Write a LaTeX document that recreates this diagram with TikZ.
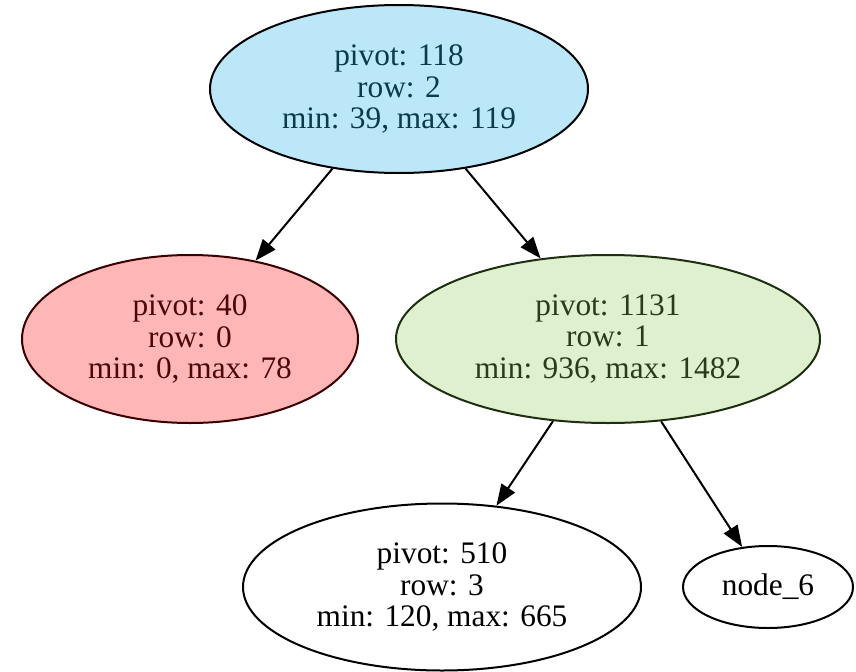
\documentclass[tikz,border=0pt]{standalone}
\usepackage{fontspec}
\setmainfont{Liberation Serif}
\usetikzlibrary{shapes.geometric,arrows.meta}
\definecolor{bluefill}{HTML}{BBE7F9}
\definecolor{bluetext}{HTML}{0B3A4A}
\definecolor{redfill}{HTML}{FFB6B6}
\definecolor{redtext}{HTML}{4A0808}
\definecolor{redline}{HTML}{3A0000}
\definecolor{greenfill}{HTML}{DFF0CF}
\definecolor{greentext}{HTML}{2A3B1A}
\definecolor{greenline}{HTML}{1E2E10}
\tikzset{
  tnode/.style={ellipse, draw=black, line width=1.5pt, inner sep=0pt, align=center,
    font=\fontsize{23.5}{23.5}\selectfont},
  edge/.style={line width=1.5pt, -{Triangle[length=16pt,width=12pt]}},
}
\begin{document}
\begin{tikzpicture}[x=0.75pt,y=-0.75pt]
\useasboundingbox (0,0) rectangle (856,671);
\node[tnode, fill=bluefill, text=bluetext, minimum width=378*0.75pt, minimum height=168*0.75pt] (root) at (399,89) {pivot: 118\\row: 2\\min: 39, max: 119};
\node[tnode, fill=redfill, draw=redline, text=redtext, minimum width=336*0.75pt, minimum height=168*0.75pt] (n40) at (190,339) {pivot: 40\\row: 0\\min: 0, max: 78};
\node[tnode, fill=greenfill, draw=greenline, text=greentext, minimum width=424*0.75pt, minimum height=168*0.75pt] (n1131) at (608,339) {pivot: 1131\\row: 1\\min: 936, max: 1482};
\node[tnode, minimum width=398*0.75pt, minimum height=167*0.75pt] (n510) at (442,587) {pivot: 510\\row: 3\\min: 120, max: 665};
\node[tnode, minimum width=170*0.75pt, minimum height=82*0.75pt] (n6) at (768,587) {node\_6};
\draw[edge] (root) -- (n40);
\draw[edge] (root) -- (n1131);
\draw[edge] (n1131) -- (n510);
\draw[edge] (n1131) -- (n6);
\end{tikzpicture}
\end{document}
